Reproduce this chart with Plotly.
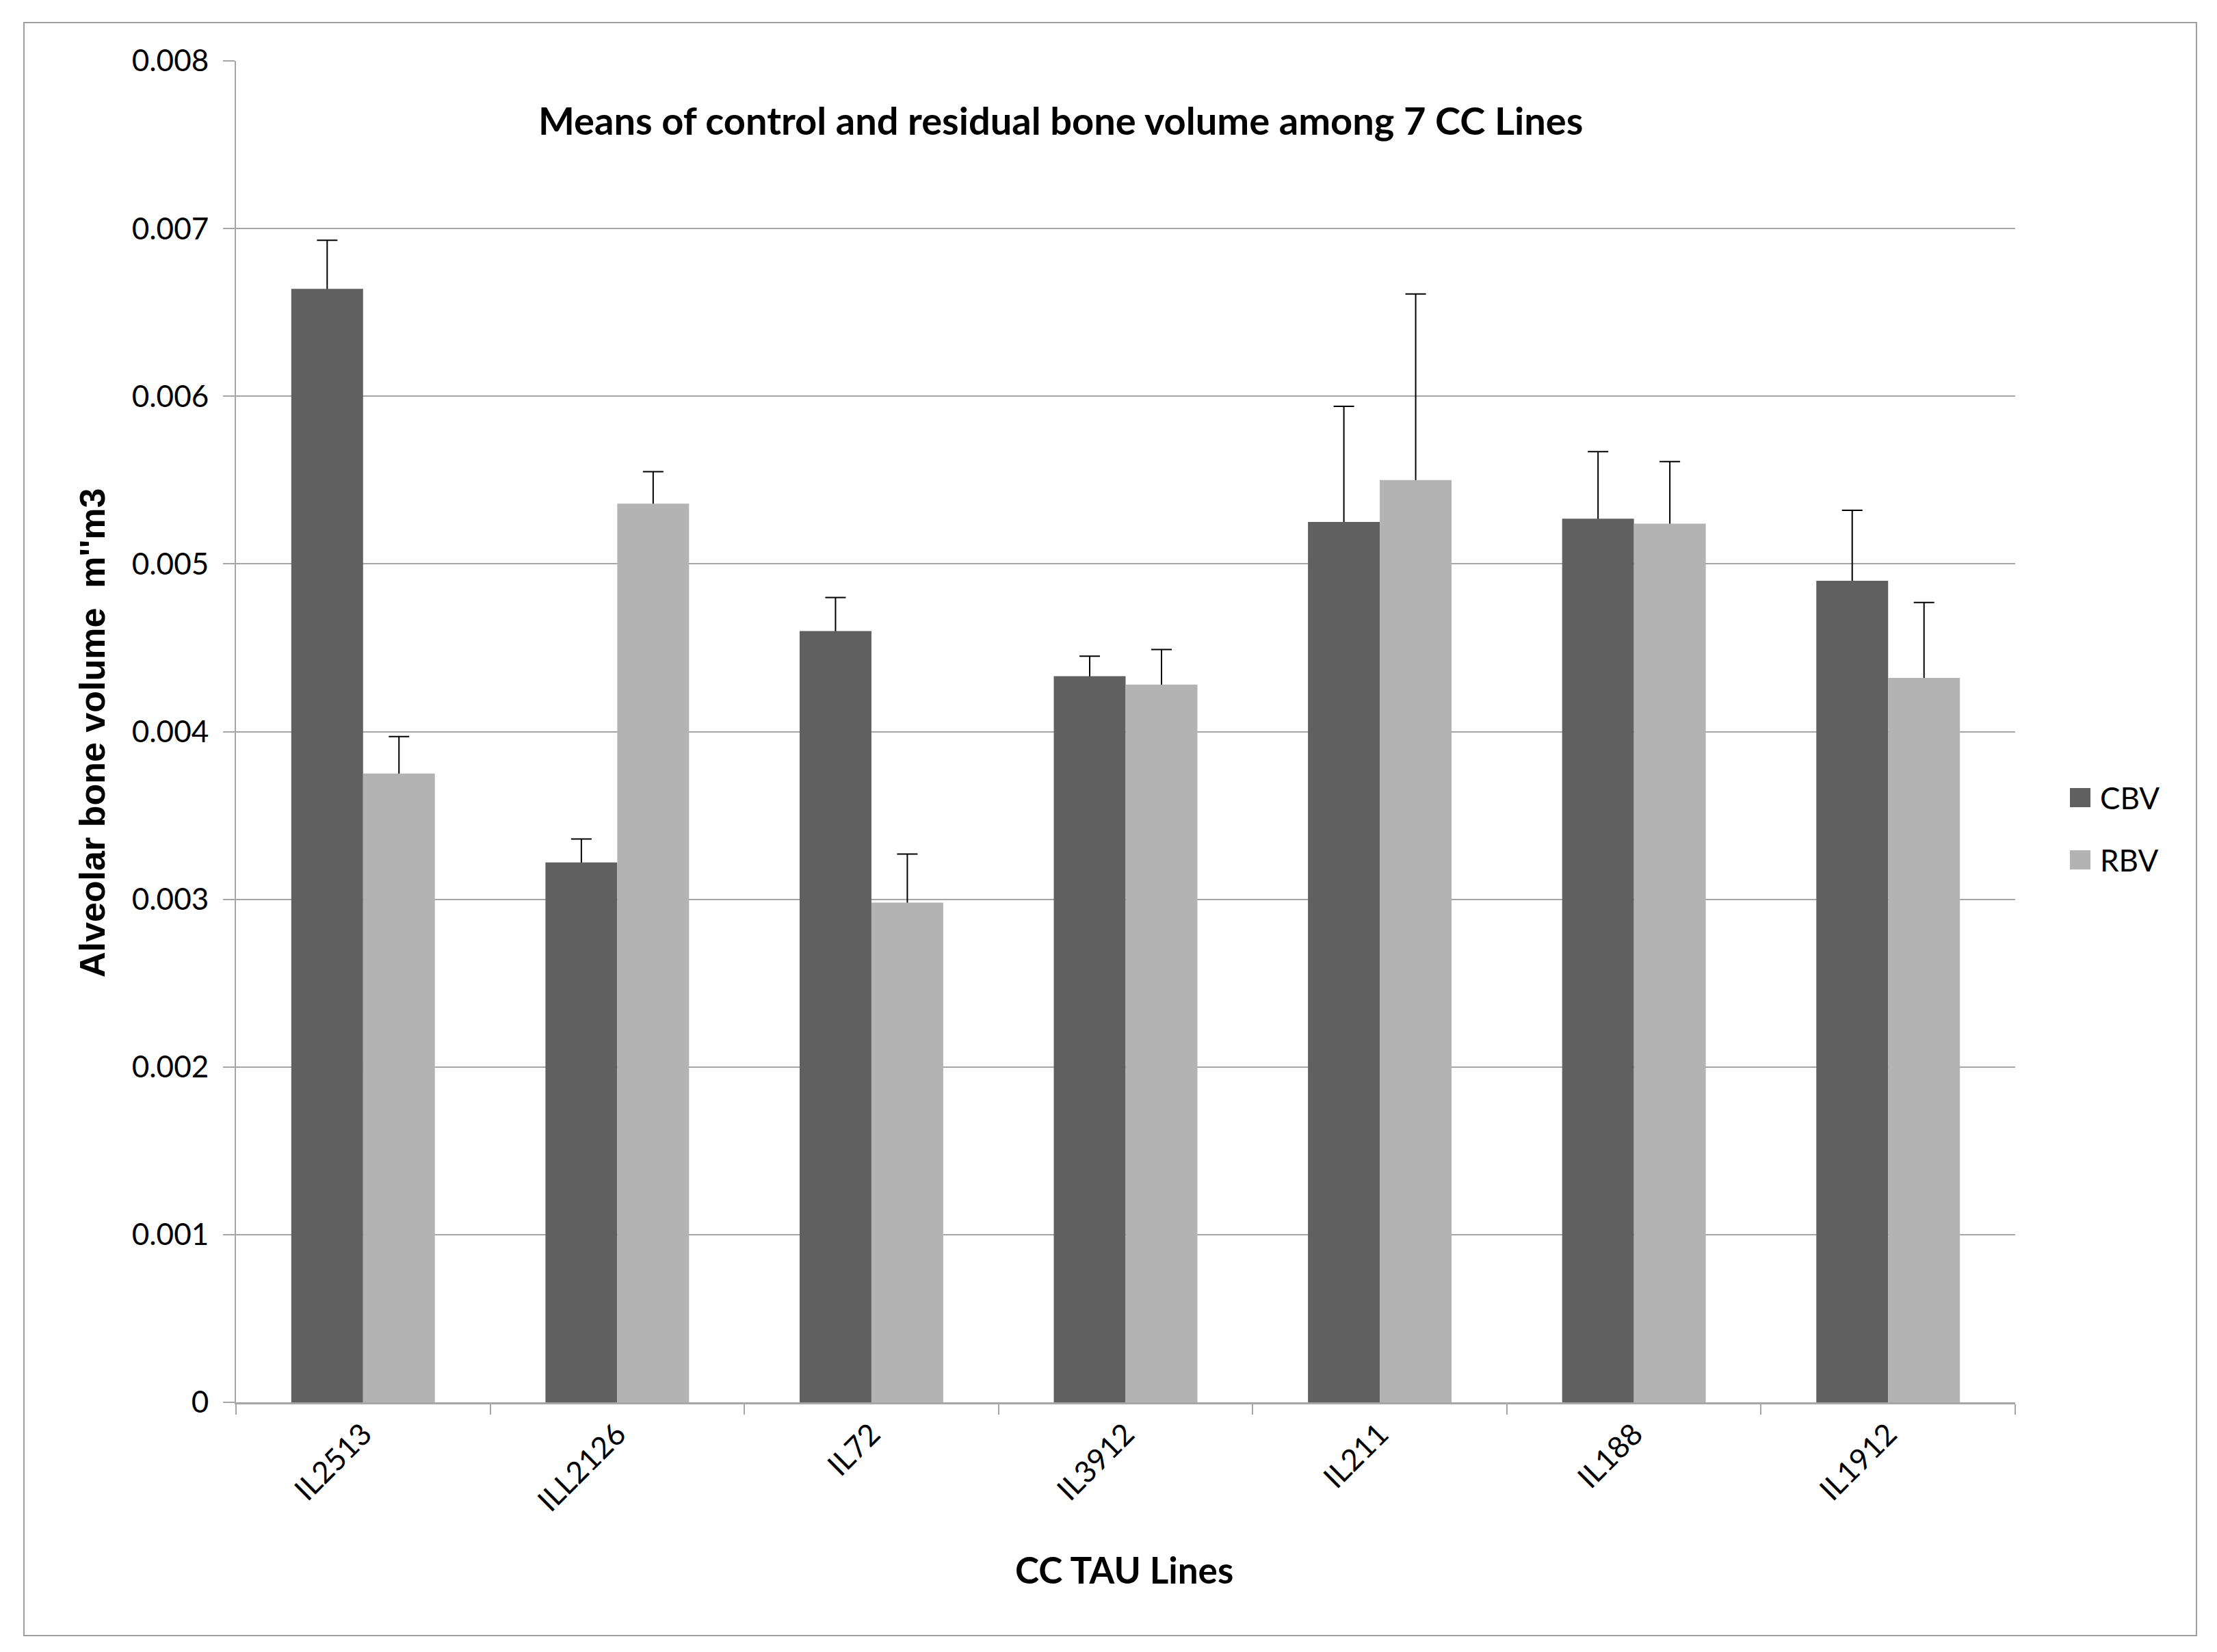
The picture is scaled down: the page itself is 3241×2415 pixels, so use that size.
import plotly.graph_objects as go

categories = ["IL2513", "ILL2126", "IL72", "IL3912", "IL211", "IL188", "IL1912"]
cbv = [0.00664, 0.00322, 0.00460, 0.00433, 0.00525, 0.00527, 0.00490]
cbv_err = [0.00029, 0.00014, 0.00020, 0.00012, 0.00069, 0.00040, 0.00042]
rbv = [0.00375, 0.00536, 0.00298, 0.00428, 0.00550, 0.00524, 0.00432]
rbv_err = [0.00022, 0.00019, 0.00029, 0.00021, 0.00111, 0.00037, 0.00045]
series_names = ["CBV", "RBV"]
colors = ["#606060", "#b3b3b3"]

W, H = 3241, 2415
OFF = 8  # page body margin
# plot area in screenshot coordinates
X0, X1, Y0, Y1 = 345, 2946, 89, 2050
L = X0 - OFF
T = Y0 - OFF
pw, ph = X1 - X0, Y1 - Y0
R = W - L - pw
B = H - T - ph

def px(x):
    return (x - X0) / pw

def py(y):
    return (Y1 - y) / ph

series = [(series_names[0], cbv, cbv_err, colors[0]),
          (series_names[1], rbv, rbv_err, colors[1])]

fig = go.Figure()
# error bars first (transparent bars, drawn underneath so only the upper whisker shows)
for name, vals, errs, col in series:
    fig.add_trace(go.Bar(
        x=categories, y=vals, name=name + " error", offsetgroup=name,
        marker=dict(color="rgba(0,0,0,0)", line=dict(width=0)),
        error_y=dict(type="data", array=errs, symmetric=False, arrayminus=vals,
                     color="#000000", thickness=2, width=15),
        hoverinfo="skip",
    ))
for name, vals, errs, col in series:
    fig.add_trace(go.Bar(
        x=categories, y=vals, name=name, offsetgroup=name,
        marker=dict(color=col, line=dict(width=0)),
    ))

body_font = "Lato, 'Open Sans', sans-serif"
grid_col = "#a6a6a6"

fig.update_layout(
    width=W, height=H,
    margin=dict(l=L, r=R, t=T, b=B),
    paper_bgcolor="white", plot_bgcolor="white",
    barmode="group", bargap=0.435, bargroupgap=0,
    showlegend=False,
    font=dict(family=body_font, color="#000000", size=44),
    xaxis=dict(
        showline=True, linecolor=grid_col, linewidth=3,
        ticks="outside", tickson="boundaries", ticklen=15, tickwidth=2, tickcolor=grid_col,
        tickangle=-45, tickfont=dict(size=44, family=body_font),
        showgrid=False,
    ),
    yaxis=dict(
        range=[0, 0.008], dtick=0.001, tick0=0,
        showline=True, linecolor=grid_col, linewidth=2,
        ticks="outside", ticklen=17, tickwidth=2, tickcolor=grid_col,
        showgrid=True, gridcolor=grid_col, gridwidth=2,
        zeroline=False, tickfont=dict(size=44, family=body_font),
        ticklabelstandoff=12,
    ),
)

annotations = [
    dict(text="<b>Means of control and residual bone volume among 7 CC Lines</b>",
         x=px(1550), y=py(176), xref="paper", yref="paper", showarrow=False,
         xanchor="center", yanchor="middle", font=dict(size=56, family=body_font)),
    dict(text="<b>CC TAU Lines</b>",
         x=px(1643), y=py(2294), xref="paper", yref="paper", showarrow=False,
         xanchor="center", yanchor="middle", font=dict(size=53, family=body_font)),
    dict(text="<b>Alveolar bone volume  m''m3</b>",
         x=px(135), y=py(1072), xref="paper", yref="paper", showarrow=False,
         xanchor="center", yanchor="middle", textangle=-90,
         font=dict(size=52, family="'Liberation Sans', Arial, sans-serif")),
]
shapes = [
    dict(type="rect", xref="paper", yref="paper", x0=px(35), x1=px(3211), y0=py(2391), y1=py(33),
         line=dict(color="#a0a0a0", width=2), fillcolor="rgba(0,0,0,0)", layer="below"),
]
for i, (name, col) in enumerate(zip(series_names, colors)):
    yc = 1166 + i * 91
    shapes.append(dict(type="rect", xref="paper", yref="paper",
                       x0=px(3026), x1=px(3056), y0=py(yc + 14), y1=py(yc - 14),
                       fillcolor=col, line=dict(width=0)))
    annotations.append(dict(text=name, x=px(3068), y=py(yc), xref="paper", yref="paper",
                            showarrow=False, xanchor="left", yanchor="middle",
                            font=dict(size=44, family=body_font)))

fig.update_layout(annotations=annotations, shapes=shapes)
fig.write_html("out.html")
